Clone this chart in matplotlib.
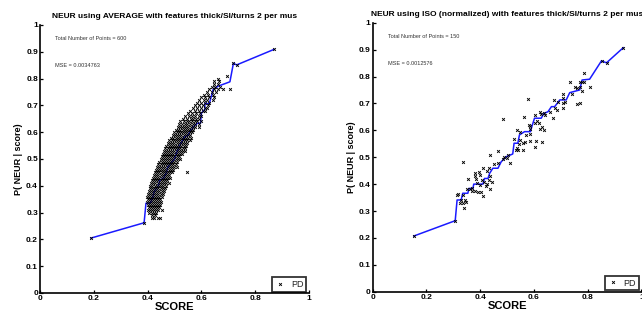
import numpy as np
import matplotlib
matplotlib.use("Agg")
import matplotlib.pyplot as plt

plt.rcParams['font.family'] = ['Liberation Sans', 'DejaVu Sans']

# ---- AVERAGE model: 600 scored samples, read row by row (prob level -> scores)
avg_prob_levels = [0.28, 0.29, 0.30, 0.31, 0.32, 0.33, 0.34, 0.35, 0.36, 0.37,
                   0.38, 0.39, 0.40, 0.41, 0.42, 0.43, 0.44, 0.45, 0.46, 0.47,
                   0.48, 0.49, 0.50, 0.51, 0.52, 0.53, 0.54, 0.55, 0.56, 0.57,
                   0.58, 0.59, 0.60, 0.61, 0.62, 0.63, 0.64, 0.65, 0.66, 0.67,
                   0.68, 0.69, 0.70, 0.71, 0.72, 0.73, 0.74, 0.75, 0.76, 0.77,
                   0.78, 0.79, 0.80, 0.81]
avg_score_rows = [
    [0.418, 0.425, 0.44, 0.447],
    [0.417, 0.428],
    [0.405, 0.415, 0.425, 0.432],
    [0.402, 0.41, 0.418, 0.424, 0.43, 0.438, 0.455],
    [0.404, 0.412, 0.42, 0.428, 0.435, 0.442],
    [0.40, 0.408, 0.415, 0.423, 0.43, 0.437, 0.445],
    [0.398, 0.405, 0.412, 0.42, 0.428, 0.435, 0.443, 0.45],
    [0.40, 0.408, 0.415, 0.422, 0.43, 0.438, 0.447],
    [0.397, 0.405, 0.413, 0.42, 0.428, 0.436, 0.444, 0.452],
    [0.40, 0.41, 0.418, 0.425, 0.433, 0.44, 0.448, 0.457],
    [0.404, 0.412, 0.42, 0.428, 0.436, 0.444, 0.452, 0.46],
    [0.408, 0.416, 0.424, 0.432, 0.44, 0.448, 0.456, 0.464],
    [0.41, 0.418, 0.426, 0.434, 0.442, 0.45, 0.458, 0.467],
    [0.413, 0.421, 0.429, 0.437, 0.445, 0.453, 0.461, 0.47, 0.48],
    [0.416, 0.424, 0.432, 0.44, 0.448, 0.456, 0.464, 0.472],
    [0.42, 0.428, 0.436, 0.444, 0.452, 0.46, 0.468, 0.476, 0.484],
    [0.424, 0.432, 0.44, 0.448, 0.456, 0.464, 0.472, 0.48],
    [0.428, 0.436, 0.444, 0.452, 0.46, 0.468, 0.476, 0.484, 0.492, 0.545],
    [0.43, 0.438, 0.446, 0.454, 0.462, 0.47, 0.478, 0.486, 0.494],
    [0.434, 0.442, 0.45, 0.458, 0.466, 0.474, 0.482, 0.49, 0.498, 0.51],
    [0.44, 0.448, 0.456, 0.464, 0.472, 0.48, 0.488, 0.496, 0.504],
    [0.444, 0.452, 0.46, 0.468, 0.476, 0.484, 0.492, 0.5, 0.508],
    [0.448, 0.456, 0.464, 0.472, 0.48, 0.488, 0.496, 0.504, 0.512, 0.52],
    [0.452, 0.46, 0.468, 0.476, 0.484, 0.492, 0.5, 0.508, 0.516],
    [0.456, 0.464, 0.472, 0.48, 0.488, 0.496, 0.504, 0.512, 0.52, 0.528],
    [0.46, 0.468, 0.476, 0.484, 0.492, 0.5, 0.508, 0.516, 0.524, 0.532, 0.54],
    [0.466, 0.474, 0.482, 0.49, 0.498, 0.506, 0.514, 0.522, 0.53, 0.538],
    [0.47, 0.478, 0.486, 0.494, 0.502, 0.51, 0.518, 0.526, 0.534, 0.542],
    [0.476, 0.484, 0.492, 0.5, 0.508, 0.516, 0.524, 0.532, 0.54, 0.548],
    [0.48, 0.49, 0.498, 0.506, 0.514, 0.522, 0.53, 0.538, 0.546, 0.556],
    [0.488, 0.496, 0.504, 0.512, 0.52, 0.528, 0.536, 0.544, 0.552, 0.56],
    [0.494, 0.502, 0.51, 0.518, 0.526, 0.534, 0.542, 0.55, 0.558],
    [0.5, 0.508, 0.516, 0.524, 0.532, 0.54, 0.548, 0.556, 0.564],
    [0.506, 0.514, 0.522, 0.53, 0.538, 0.546, 0.554, 0.562, 0.57],
    [0.512, 0.52, 0.528, 0.536, 0.544, 0.552, 0.56, 0.568, 0.576, 0.59],
    [0.518, 0.528, 0.538, 0.548, 0.558, 0.568, 0.578, 0.59],
    [0.522, 0.535, 0.545, 0.555, 0.565, 0.575, 0.585, 0.598],
    [0.53, 0.545, 0.56, 0.57, 0.58, 0.592],
    [0.54, 0.555, 0.565, 0.578, 0.59, 0.60],
    [0.55, 0.566, 0.58, 0.595],
    [0.556, 0.575, 0.59, 0.605, 0.615],
    [0.568, 0.582, 0.60, 0.612, 0.62],
    [0.576, 0.592, 0.605, 0.625],
    [0.585, 0.60, 0.612, 0.63],
    [0.59, 0.608, 0.62, 0.644],
    [0.60, 0.612, 0.63, 0.645],
    [0.61, 0.625, 0.644],
    [0.622, 0.64, 0.655],
    [0.63, 0.648, 0.662, 0.681, 0.706],
    [0.638, 0.652, 0.668],
    [0.645, 0.66],
    [0.648, 0.665],
    [0.663],
    [0.694],
]
# isolated samples at the ends of the curve
avg_extra_score = [0.19, 0.387, 0.719, 0.731, 0.870]
avg_extra_prob = [0.205, 0.262, 0.857, 0.851, 0.909]

# fitted AVERAGE calibration curve
avg_curve_score = [0.19, 0.387, 0.394, 0.41, 0.42, 0.425, 0.44, 0.445, 0.46, 0.47,
                   0.475, 0.49, 0.50, 0.51, 0.52, 0.535, 0.55, 0.575, 0.585, 0.597,
                   0.600, 0.613, 0.613, 0.629, 0.644, 0.663, 0.706, 0.719, 0.731, 0.870]
avg_curve_prob = [0.205, 0.262, 0.335, 0.335, 0.36, 0.38, 0.40, 0.42, 0.43, 0.45,
                  0.47, 0.49, 0.50, 0.53, 0.55, 0.58, 0.59, 0.625, 0.633, 0.634,
                  0.671, 0.685, 0.708, 0.705, 0.760, 0.772, 0.788, 0.857, 0.851, 0.909]

# ---- ISO (normalized) model: 150 scored samples
iso_score = [0.853, 0.872, 0.785, 0.735, 0.770, 0.779, 0.785, 0.752, 0.770, 0.760,
             0.779, 0.810, 0.742, 0.707, 0.673, 0.688, 0.707, 0.707, 0.717, 0.708,
             0.760, 0.770, 0.576, 0.679, 0.686, 0.661, 0.624, 0.627, 0.636, 0.605,
             0.642, 0.670, 0.564, 0.483, 0.611, 0.619, 0.605, 0.580, 0.586, 0.624,
             0.636, 0.630, 0.537, 0.549, 0.586, 0.524, 0.571, 0.586, 0.609, 0.631,
             0.549, 0.544, 0.586, 0.568, 0.602, 0.561, 0.537, 0.534, 0.540, 0.561,
             0.465, 0.435, 0.502, 0.487, 0.484, 0.499, 0.509, 0.468, 0.335, 0.450,
             0.410, 0.431, 0.425, 0.394, 0.381, 0.400, 0.437, 0.379, 0.356, 0.385,
             0.406, 0.431, 0.415, 0.425, 0.388, 0.400, 0.369, 0.422, 0.437, 0.381,
             0.390, 0.404, 0.410, 0.363, 0.350, 0.315, 0.335, 0.342, 0.328, 0.323,
             0.335, 0.338, 0.348, 0.369, 0.443, 0.317, 0.153, 0.307, 0.932]
iso_prob = [0.859, 0.849, 0.812, 0.778, 0.778, 0.781, 0.781, 0.760, 0.762, 0.756,
            0.747, 0.762, 0.735, 0.735, 0.713, 0.704, 0.719, 0.703, 0.704, 0.682,
            0.698, 0.700, 0.715, 0.682, 0.675, 0.669, 0.669, 0.661, 0.666, 0.657,
            0.657, 0.647, 0.648, 0.642, 0.635, 0.628, 0.628, 0.620, 0.616, 0.604,
            0.601, 0.611, 0.601, 0.595, 0.604, 0.566, 0.583, 0.586, 0.561, 0.558,
            0.564, 0.549, 0.561, 0.558, 0.537, 0.552, 0.533, 0.527, 0.527, 0.527,
            0.524, 0.508, 0.508, 0.502, 0.492, 0.496, 0.480, 0.480, 0.482, 0.475,
            0.459, 0.459, 0.449, 0.444, 0.443, 0.434, 0.430, 0.430, 0.418, 0.418,
            0.415, 0.415, 0.409, 0.400, 0.403, 0.397, 0.387, 0.394, 0.381, 0.376,
            0.369, 0.372, 0.356, 0.382, 0.381, 0.359, 0.359, 0.341, 0.341, 0.331,
            0.331, 0.313, 0.335, 0.374, 0.409, 0.362, 0.207, 0.264, 0.907]

iso_curve_score = [0.153, 0.307, 0.314, 0.329, 0.335, 0.354, 0.358, 0.373, 0.376, 0.41,
                   0.416, 0.429, 0.435, 0.447, 0.466, 0.478, 0.497, 0.521, 0.526, 0.54,
                   0.546, 0.565, 0.587, 0.59, 0.596, 0.602, 0.627, 0.637, 0.652, 0.665,
                   0.677, 0.696, 0.72, 0.733, 0.770, 0.779, 0.807, 0.851, 0.870, 0.932]
iso_curve_prob = [0.207, 0.264, 0.341, 0.341, 0.366, 0.366, 0.384, 0.384, 0.40, 0.40,
                  0.421, 0.421, 0.44, 0.459, 0.459, 0.483, 0.502, 0.512, 0.552, 0.552,
                  0.583, 0.595, 0.595, 0.607, 0.626, 0.645, 0.645, 0.663, 0.669, 0.688,
                  0.688, 0.713, 0.713, 0.740, 0.750, 0.787, 0.79, 0.858, 0.851, 0.907]

xtick_vals = [0, 0.2, 0.4, 0.6, 0.8, 1]
xtick_text = ['0', '0.2', '0.4', '0.6', '0.8', '1']
ytick_vals = [0, 0.1, 0.2, 0.3, 0.4, 0.5, 0.6, 0.7, 0.8, 0.9, 1]
ytick_text = ['0', '0.1', '0.2', '0.3', '0.4', '0.5', '0.6', '0.7', '0.8', '0.9', '1']

# expand the row-wise readings into flat arrays
avg_score = [s for row in avg_score_rows for s in row] + avg_extra_score
avg_prob = [p for p, row in zip(avg_prob_levels, avg_score_rows) for _ in row] + avg_extra_prob


def draw_panel(ax, title, score, prob, cx, cy, n_points, mse):
    ax.plot(cx, cy, color='#1a1aff', lw=1.1, zorder=2)
    ax.plot(score, prob, 'x', color='black', ms=2.0, mew=0.65, label='PD', zorder=3)
    ax.set_xlim(0, 1)
    ax.set_ylim(0, 1)
    ax.set_xticks(xtick_vals)
    ax.set_xticklabels(xtick_text)
    ax.set_yticks(ytick_vals)
    ax.set_yticklabels(ytick_text)
    for lab in ax.get_xticklabels() + ax.get_yticklabels():
        lab.set_fontweight('bold')
    ax.tick_params(direction='in', length=2.5, width=0.9, labelsize=6.0, pad=1.5)
    ax.spines['top'].set_visible(False)
    ax.spines['right'].set_visible(False)
    ax.spines['left'].set_linewidth(1.2)
    ax.spines['bottom'].set_linewidth(1.2)
    ax.set_xlabel('SCORE', fontsize=8, fontweight='bold', labelpad=0)
    ax.set_ylabel('P( NEUR | score)', fontsize=6.5, fontweight='bold', labelpad=2)
    ax.set_title(title, fontsize=6.0, fontweight='bold', pad=5)
    ax.text(0.057, 0.95, 'Total Number of Points = %d' % n_points, fontsize=4,
            color='#333333', va='center')
    ax.text(0.057, 0.848, 'MSE = %s' % mse, fontsize=4, color='#333333', va='center')
    leg = ax.legend(loc='lower right', bbox_to_anchor=(0.99, 0.005), fontsize=6.5,
                    frameon=True, fancybox=False, handlelength=1.2, handletextpad=0.6,
                    borderpad=0.3, borderaxespad=0, markerscale=1.0)
    leg.get_frame().set_edgecolor('black')
    leg.get_frame().set_linewidth(1.3)
    for t in leg.get_texts():
        t.set_color('#222222')


fig = plt.figure(figsize=(6.42, 3.2), dpi=100)
ax1 = fig.add_axes([0.0623, 0.0844, 0.4190, 0.8375])
ax2 = fig.add_axes([0.5805, 0.0884, 0.4187, 0.8406])

draw_panel(ax1, 'NEUR using AVERAGE with features thick/SI/turns 2 per mus',
           avg_score, avg_prob, avg_curve_score, avg_curve_prob, 600, '0.0034763')
draw_panel(ax2, 'NEUR using ISO (normalized) with features thick/SI/turns 2 per mus',
           iso_score, iso_prob, iso_curve_score, iso_curve_prob, 150, '0.0012576')

fig.savefig('out.png', dpi=100)
